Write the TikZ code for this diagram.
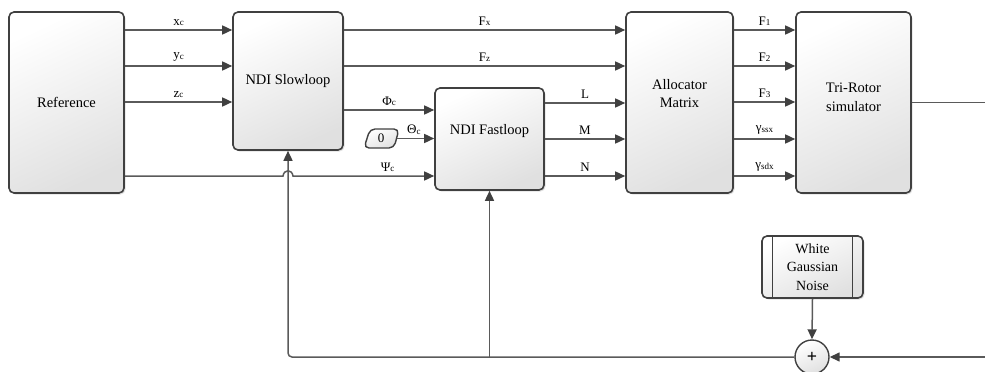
\documentclass[tikz,border=0pt]{standalone}
\usepackage{fontspec}
\IfFontExistsTF{LiberationSerif-Regular.ttf}
  {\setmainfont{LiberationSerif-Regular.ttf}[BoldFont=LiberationSerif-Bold.ttf]}
  {\setmainfont{Liberation Serif}}
\usetikzlibrary{arrows.meta,shadows,calc}

\definecolor{edgecol}{RGB}{64,64,64}
\definecolor{wirecol}{RGB}{90,90,90}
\definecolor{fillend}{RGB}{224,224,224}

% small subscript as used in the signal names
\newcommand\sbs[1]{\raisebox{-0.6pt}{\fontsize{9}{9}\selectfont #1}}

\tikzset{
  x=1pt, y=-1pt,
  shade box/.style={top color=white, bottom color=fillend, shading angle=25},
  blk/.style={draw=edgecol, line width=1.6pt, rounded corners=5pt, shade box,
    drop shadow={shadow xshift=1.5pt, shadow yshift=-1.5pt, fill=black, opacity=0.12},
    font=\fontsize{14.5}{17.5}\selectfont, align=center, inner sep=0pt},
  wire/.style={draw=wirecol, line width=1.5pt},
  arr/.style={wire, -{Triangle[length=10pt,width=9pt,color=edgecol]}},
  lab/.style={font=\fontsize{13}{13}\selectfont, above, inner sep=3.5pt},
}

\begin{document}
\begin{tikzpicture}
\useasboundingbox (0,0) rectangle (985,372);

% blocks
\node[blk, minimum width=115, minimum height=181] (ref) at (66.5,102.5) {Reference};
\node[blk, minimum width=110, minimum height=138] (slow) at (288,81) {NDI Slowloop};
\node[blk, minimum width=109, minimum height=102,
      label={[font=\fontsize{14.5}{17.5}\selectfont, yshift=8pt]center:NDI Fastloop}] (fast) at (489.5,139) {};
\node[blk, minimum width=107, minimum height=181,
      label={[font=\fontsize{14.5}{18.5}\selectfont, align=center, yshift=9pt]center:Allocator\\Matrix}] (alloc) at (679.5,102.5) {};
\node[blk, minimum width=115, minimum height=181,
      label={[font=\fontsize{14.5}{18.5}\selectfont, align=center, yshift=5pt]center:Tri-Rotor\\simulator}] (tri) at (853.5,102.5) {};
\node[blk, minimum width=101, minimum height=62, font=\fontsize{14}{18.5}\selectfont] (noise) at (812.5,267) {White\\Gaussian\\Noise};
\draw[draw=edgecol, line width=1.3pt]
  ($(noise.north west)+(11,0)$) -- ($(noise.south west)+(11,0)$)
  ($(noise.north east)+(-11,0)$) -- ($(noise.south east)+(-11,0)$);

% summing junction
\node[circle, draw=edgecol, line width=1.4pt, shade box, minimum size=34, inner sep=0pt,
      font=\fontsize{18}{18}\bfseries\selectfont] (sum) at (812,357) {+};

% constant zero block
\draw[draw=edgecol, line width=1.4pt, rounded corners=5pt, shade box]
  (370,129) -- (399,129) -- (394,148) -- (364,148) -- cycle;
\node[font=\fontsize{13}{13}\selectfont, minimum width=32, inner sep=0pt] (zero) at (381,138.5) {0};

% reference to slow loop
\draw[arr] (ref.east|-{(0,30)}) -- node[lab]{x\sbs{c}} (slow.west|-{(0,30)});
\draw[arr] (ref.east|-{(0,66)}) -- node[lab]{y\sbs{c}} (slow.west|-{(0,66)});
\draw[arr] (ref.east|-{(0,102)}) -- node[lab]{z\sbs{c}} (slow.west|-{(0,102)});
\draw[arr] (ref.east|-{(0,176)}) -- (283,176) .. controls (284,169) and (292,169) .. (293,176)
  -- node[lab, pos=0.67]{Ψ\sbs{c}} (fast.west|-{(0,176)});

% slow loop outputs
\draw[arr] (slow.east|-{(0,30)}) -- node[lab]{F\sbs{x}} (alloc.west|-{(0,30)});
\draw[arr] (slow.east|-{(0,66)}) -- node[lab]{F\sbs{z}} (alloc.west|-{(0,66)});
\draw[arr] (slow.east|-{(0,110)}) -- node[lab]{Φ\sbs{c}} (fast.west|-{(0,110)});
\draw[arr] (zero.east) -- node[lab, pos=0.45]{Θ\sbs{c}} (fast.west|-zero.east);

% fast loop outputs
\draw[arr] (fast.east|-{(0,103)}) -- node[lab]{L} (alloc.west|-{(0,103)});
\draw[arr] (fast.east|-{(0,139)}) -- node[lab]{M} (alloc.west|-{(0,139)});
\draw[arr] (fast.east|-{(0,176)}) -- node[lab]{N} (alloc.west|-{(0,176)});

% allocator outputs
\draw[arr] (alloc.east|-{(0,30)}) -- node[lab]{F\sbs{1}} (tri.west|-{(0,30)});
\draw[arr] (alloc.east|-{(0,66)}) -- node[lab]{F\sbs{2}} (tri.west|-{(0,66)});
\draw[arr] (alloc.east|-{(0,102)}) -- node[lab]{F\sbs{3}} (tri.west|-{(0,102)});
\draw[arr] (alloc.east|-{(0,139)}) -- node[lab]{γ\sbs{ssx}} (tri.west|-{(0,139)});
\draw[arr] (alloc.east|-{(0,176)}) -- node[lab]{γ\sbs{sdx}} (tri.west|-{(0,176)});

% plant output and measured feedback
\coordinate (out) at (985,102.5);
\coordinate (meas) at (985,357);
\draw[wire] (tri.east) -- (out);
\draw[arr] (meas) -- (sum.east);
\draw[arr] (noise.south) -- (sum.north);
\draw[arr, rounded corners=4pt] (sum.west) -- (slow.south|-sum.west) -- (slow.south);
\draw[arr] (fast.south|-sum.west) -- (fast.south);
\end{tikzpicture}
\end{document}
